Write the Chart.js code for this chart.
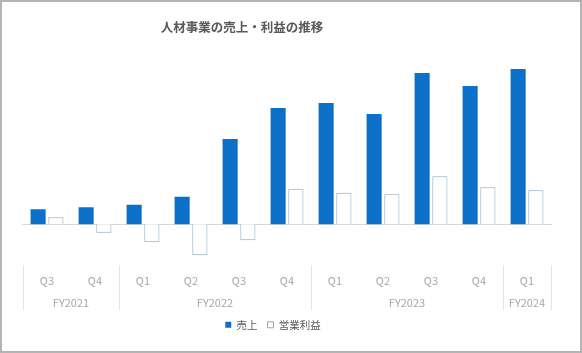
<!DOCTYPE html>
<html lang="ja">
  <head>
    <meta charset="UTF-8" />
    <script src="https://cdn.jsdelivr.net/npm/chart.js@4.4.0/dist/chart.umd.min.js"></script>
    <title>人材事業の売上・利益の推移</title>
    <style>
      body { margin: 0; background: #fff; }
      #wrap {
        width: 582px; height: 353px; box-sizing: border-box;
        border: 2px solid #b4b4b4; background: #fff;
      }
      canvas { display: block; }
    </style>
  </head>
  <body>
    <div id="wrap">
      <canvas id="myChart" width="578" height="349"></canvas>
    </div>
    <script>
      const quarters = ["Q3", "Q4", "Q1", "Q2", "Q3", "Q4", "Q1", "Q2", "Q3", "Q4", "Q1"];
      const fiscalYears = ["FY2021", "FY2021", "FY2022", "FY2022", "FY2022", "FY2022",
        "FY2023", "FY2023", "FY2023", "FY2023", "FY2024"];
      const sales = [15, 17, 19.5, 27.5, 85, 116, 121, 110, 151, 138, 155];
      const profit = [7, -8.5, -18, -31, -16, 35.5, 31.5, 30, 48, 37, 34];

      const font = "'Noto Sans CJK JP', 'Noto Sans', sans-serif";
      const gray = "#a6a6a6";

      // title, zero line, year labels and separators
      const extras = {
        id: "extras",
        afterLayout(chart) {
          // legend sits lower and a bit left of centre in the original
          chart.legend.left -= 14;
          chart.legend.right -= 14;
          chart.legend.top += 20;
          chart.legend.bottom += 20;
        },
        beforeDatasetsDraw(chart) {
          const ctx = chart.ctx;
          const x = chart.scales.x;
          const y = chart.scales.y;
          ctx.save();
          ctx.strokeStyle = "#d9d9d9";
          ctx.lineWidth = 1;
          const y0 = Math.round(y.getPixelForValue(0)) + 0.5;
          ctx.beginPath();
          ctx.moveTo(x.left - 1, y0);
          ctx.lineTo(x.right + 1, y0);
          ctx.stroke();
          ctx.restore();
        },
        afterDraw(chart) {
          const ctx = chart.ctx;
          const x = chart.scales.x;
          const half = (x.getPixelForValue(1) - x.getPixelForValue(0)) / 2;
          ctx.save();
          ctx.fillStyle = "#595959";
          ctx.font = "bold 12.5px " + font;
          ctx.textAlign = "center";
          ctx.textBaseline = "middle";
          ctx.fillText("人材事業の売上・利益の推移", 240, 25);

          ctx.strokeStyle = "#e3e3e3";
          ctx.lineWidth = 1;
          ctx.fillStyle = gray;
          ctx.font = "11px " + font;
          let start = 0;
          for (let i = 1; i <= fiscalYears.length; i++) {
            if (i === fiscalYears.length || fiscalYears[i] !== fiscalYears[start]) {
              const l = x.getPixelForValue(start) - half;
              const r = x.getPixelForValue(i - 1) + half;
              ctx.fillText(fiscalYears[start], (l + r) / 2, 301);
              if (start === 0) {
                ctx.beginPath();
                ctx.moveTo(Math.round(l) + 0.5, 263);
                ctx.lineTo(Math.round(l) + 0.5, 308);
                ctx.stroke();
              }
              ctx.beginPath();
              ctx.moveTo(Math.round(r) + 0.5, 263);
              ctx.lineTo(Math.round(r) + 0.5, 308);
              ctx.stroke();
              start = i;
            }
          }
          ctx.restore();
        },
      };

      const chart = new Chart(document.getElementById("myChart"), {
        type: "bar",
        plugins: [extras],
        data: {
          labels: quarters,
          datasets: [
            {
              label: "売上",
              data: sales,
              backgroundColor: "#0a70c8",
              borderWidth: 0,
            },
            {
              label: "営業利益",
              data: profit,
              backgroundColor: "#ffffff",
              borderColor: "#8aa8bc",
              borderWidth: 1,
            },
          ],
        },
        options: {
          responsive: false,
          animation: false,
          categoryPercentage: 0.74,
          barPercentage: 0.85,
          layout: { padding: { top: 58, left: 21, right: 29, bottom: 31 } },
          scales: {
            x: {
              grid: { display: false },
              border: { display: false },
              ticks: {
                color: gray,
                padding: 2,
                font: { family: font, size: 11 },
              },
            },
            y: {
              display: false,
              min: -40,
              max: 164,
            },
          },
          plugins: {
            tooltip: { enabled: false },
            legend: {
              position: "bottom",
              onClick: () => {
                return;
              },
              labels: {
                boxWidth: 6,
                boxHeight: 6,
                padding: 10,
                color: "#595959",
                font: { family: font, size: 10.5 },
              },
            },
          },
        },
      });
    </script>
  </body>
</html>
